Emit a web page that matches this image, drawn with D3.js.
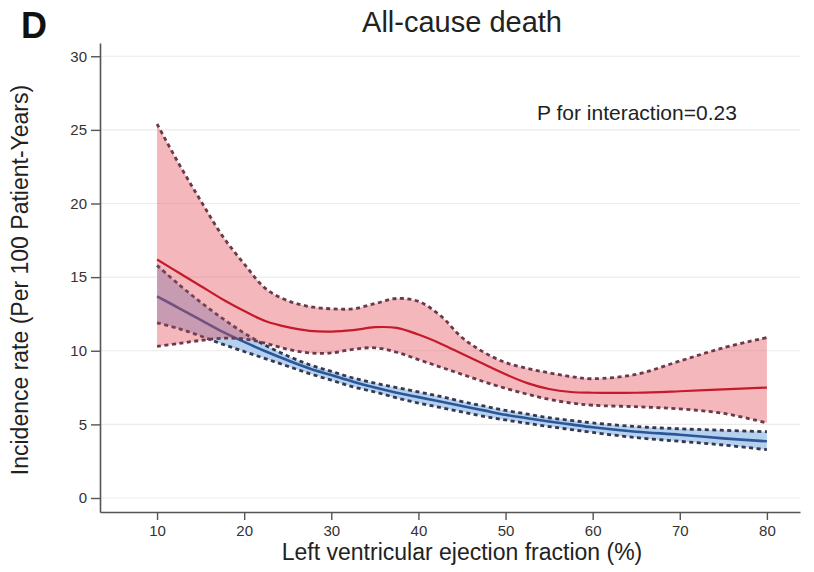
<!DOCTYPE html>
<html>
<head>
<meta charset="utf-8">
<script src="https://cdn.jsdelivr.net/npm/d3@7/dist/d3.min.js"></script>
<style>
  html, body { margin: 0; padding: 0; background: #fff; }
  svg { display: block; font-family: "Liberation Sans", Arial, Helvetica, sans-serif; }
</style>
</head>
<body>
<svg id="chart" width="814" height="572"></svg>
<script>
// ---- data ----
const lvef = [10, 12.5, 15, 17.5, 20, 22.5, 25, 27.5, 30, 32.5, 35, 37.5, 40, 42.5, 45, 47.5, 50, 52.5, 55, 57.5, 60, 65, 70, 75, 80];

const redMid   = [16.2, 15.3, 14.4, 13.5, 12.7, 12.0, 11.6, 11.35, 11.3, 11.4, 11.6, 11.55, 11.1, 10.5, 9.8, 9.1, 8.4, 7.8, 7.4, 7.2, 7.15, 7.15, 7.25, 7.38, 7.5];
const redUpper = [25.4, 22.7, 20.2, 17.8, 15.9, 14.2, 13.4, 13.0, 12.85, 12.85, 13.2, 13.55, 13.35, 12.4, 10.9, 9.9, 9.2, 8.8, 8.5, 8.25, 8.1, 8.4, 9.3, 10.2, 10.9];
const redLower = [10.3, 10.5, 10.7, 10.85, 10.8, 10.5, 10.1, 9.85, 9.85, 10.1, 10.2, 9.9, 9.4, 8.9, 8.4, 7.9, 7.45, 7.05, 6.7, 6.45, 6.3, 6.2, 6.05, 5.75, 5.1];

const blueMid   = [13.7, 12.9, 12.1, 11.3, 10.6, 9.95, 9.35, 8.8, 8.35, 7.9, 7.5, 7.15, 6.85, 6.55, 6.25, 5.95, 5.65, 5.42, 5.2, 5.0, 4.8, 4.5, 4.3, 4.05, 3.85];
const blueUpper = [15.8, 14.5, 13.3, 12.2, 11.2, 10.35, 9.65, 9.05, 8.6, 8.15, 7.8, 7.5, 7.2, 6.9, 6.55, 6.25, 5.95, 5.7, 5.45, 5.27, 5.1, 4.85, 4.7, 4.6, 4.5];
const blueLower = [11.9, 11.5, 11.0, 10.45, 9.95, 9.45, 8.95, 8.45, 8.0, 7.55, 7.2, 6.8, 6.45, 6.15, 5.85, 5.55, 5.3, 5.07, 4.85, 4.65, 4.45, 4.1, 3.85, 3.6, 3.28];

const xTicks = [10, 20, 30, 40, 50, 60, 70, 80];
const yTicks = [0, 5, 10, 15, 20, 25, 30];

const panelLabel = "D";
const title = "All-cause death";
const xTitle = "Left ventricular ejection fraction (%)";
const yTitle = "Incidence rate (Per 100 Patient-Years)";
const note = "P for interaction=0.23";

// ---- layout ----
const svg = d3.select("#chart");
const x = d3.scaleLinear().domain([3.45, 83.8]).range([100, 800]);
const y = d3.scaleLinear().domain([-0.95, 30.9]).range([512, 43]);

// gridlines
svg.append("g").selectAll("line").data(yTicks).join("line")
  .attr("x1", 101).attr("x2", 800)
  .attr("y1", d => y(d)).attr("y2", d => y(d))
  .attr("stroke", "#ebebeb").attr("stroke-width", 1.2);

const curve = d3.curveCatmullRom.alpha(0.5);
const pts = (ys) => lvef.map((v, i) => [v, ys[i]]);

const area = (lo, hi) => d3.area().curve(curve)
  .x((d, i) => x(lvef[i])).y0((d, i) => y(lo[i])).y1((d, i) => y(hi[i]))(lvef);
const line = d3.line().curve(curve).x(d => x(d[0])).y(d => y(d[1]));

const plot = svg.append("g");

// blue group
plot.append("path").attr("d", area(blueLower, blueUpper)).attr("fill", "#b6d1ef");
plot.append("path").attr("d", line(pts(blueMid))).attr("fill", "none").attr("stroke", "#2a5799").attr("stroke-width", 2.6);
[blueUpper, blueLower].forEach(s => {
  plot.append("path").attr("d", line(pts(s))).attr("fill", "none")
    .attr("stroke", "#34394f").attr("stroke-width", 2.8).attr("stroke-dasharray", "4,3.5");
});

// red group (translucent, over blue)
plot.append("path").attr("d", area(redLower, redUpper)).attr("fill", "rgb(225,75,87)").attr("fill-opacity", 0.4);
plot.append("path").attr("d", line(pts(redMid))).attr("fill", "none").attr("stroke", "#c41a2c").attr("stroke-width", 2.2);
[redUpper, redLower].forEach(s => {
  plot.append("path").attr("d", line(pts(s))).attr("fill", "none")
    .attr("stroke", "#6a3a4a").attr("stroke-width", 2.8).attr("stroke-dasharray", "4,3.5");
});

// axes
const xAxis = svg.append("g").attr("transform", "translate(0,512)")
  .call(d3.axisBottom(x).tickValues(xTicks).tickSize(8).tickPadding(5).tickSizeOuter(0));
const yAxis = svg.append("g").attr("transform", "translate(100,0)")
  .call(d3.axisLeft(y).tickValues(yTicks).tickSize(9).tickPadding(4).tickSizeOuter(0));
[xAxis, yAxis].forEach(g => {
  g.select(".domain").attr("stroke", "#555").attr("stroke-width", 1.6);
  g.selectAll(".tick line").attr("stroke", "#555").attr("stroke-width", 1.4);
  g.selectAll(".tick text").attr("fill", "#333").style("font-size", "15px")
    .style("font-family", "'Liberation Sans', Arial, sans-serif");
});

// texts
svg.append("text").attr("x", 21).attr("y", 38).text(panelLabel)
  .style("font-size", "36px").style("font-weight", "bold").attr("fill", "#111");
svg.append("text").attr("x", 462).attr("y", 32).attr("text-anchor", "middle").text(title)
  .style("font-size", "29px").attr("fill", "#222");
svg.append("text").attr("x", 462).attr("y", 560).attr("text-anchor", "middle").text(xTitle)
  .style("font-size", "23px").attr("fill", "#222");
svg.append("text").attr("transform", "translate(28,280) rotate(-90)").attr("text-anchor", "middle").text(yTitle)
  .style("font-size", "23px").attr("fill", "#222");
svg.append("text").attr("x", 537).attr("y", 120).text(note)
  .style("font-size", "21px").attr("fill", "#222");
</script>
</body>
</html>
